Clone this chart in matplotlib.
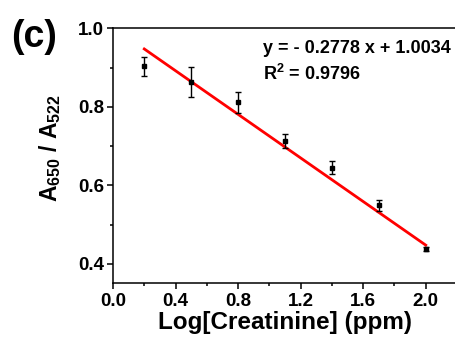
import numpy as np
import matplotlib
matplotlib.use("Agg")
import matplotlib.pyplot as plt

plt.rcParams['font.family'] = ['Liberation Sans', 'DejaVu Sans']
plt.rcParams['font.weight'] = 'bold'
plt.rcParams['mathtext.fontset'] = 'custom'
plt.rcParams['mathtext.default'] = 'bf'
plt.rcParams['mathtext.bf'] = 'Liberation Sans:bold'
plt.rcParams['mathtext.rm'] = 'Liberation Sans:bold'

# data
log_conc = [0.2, 0.5, 0.8, 1.1, 1.4, 1.7, 2.0]
ratio = [0.904, 0.863, 0.812, 0.713, 0.645, 0.550, 0.438]
ratio_err = [0.024, 0.038, 0.027, 0.018, 0.017, 0.014, 0.006]
slope = -0.2778
intercept = 1.0034
r2 = 0.9796
fit_x = np.array([0.2, 2.0])

fig = plt.figure(figsize=(4.56, 3.44), dpi=100)
ax = fig.add_axes([0.2478, 0.1759, 0.7544, 0.7413])

ax.errorbar(log_conc, ratio, yerr=ratio_err, fmt='s', color='black',
            markersize=3.5, capsize=2.3, elinewidth=1.0, capthick=1.0, zorder=3)
ax.plot(fit_x, slope * fit_x + intercept, color='red', lw=2.0, zorder=2)

ax.set_xlim(0, 2.2)
ax.set_ylim(0.35, 1.0)
ax.set_xticks([0.0, 0.4, 0.8, 1.2, 1.6, 2.0])
ax.set_xticks(np.arange(0.2, 2.2, 0.4), minor=True)
ax.set_yticks([0.4, 0.6, 0.8, 1.0])
ax.set_yticks([0.5, 0.7, 0.9], minor=True)
ax.tick_params(which='major', direction='out', length=4.5, width=1.1, labelsize=13.5, pad=2)
ax.tick_params(which='minor', direction='out', length=2.5, width=1.1)
for lab in ax.get_xticklabels() + ax.get_yticklabels():
    lab.set_fontweight('bold')
for s in ['left', 'bottom', 'top']:
    ax.spines[s].set_linewidth(1.1)
ax.spines['right'].set_visible(False)

ax.set_xlabel('Log[Creatinine] (ppm)', fontsize=17.5, fontweight='bold')
ax.xaxis.set_label_coords(0.501, -0.108)
ax.set_ylabel('A$_{650}$ / A$_{522}$', fontsize=16.5, fontweight='bold')
ax.yaxis.set_label_coords(-0.145, 0.53)

ax.text(0.436, 0.923, 'y = - 0.2778 x + 1.0034', transform=ax.transAxes,
        fontsize=13, fontweight='bold', va='center')
ax.text(0.436, 0.823, 'R$^2$ = 0.9796', transform=ax.transAxes,
        fontsize=13, fontweight='bold', va='center')

fig.text(0.024, 0.893, '(c)', fontsize=27, fontweight='bold', va='center')

fig.savefig('out.png', dpi=100)
